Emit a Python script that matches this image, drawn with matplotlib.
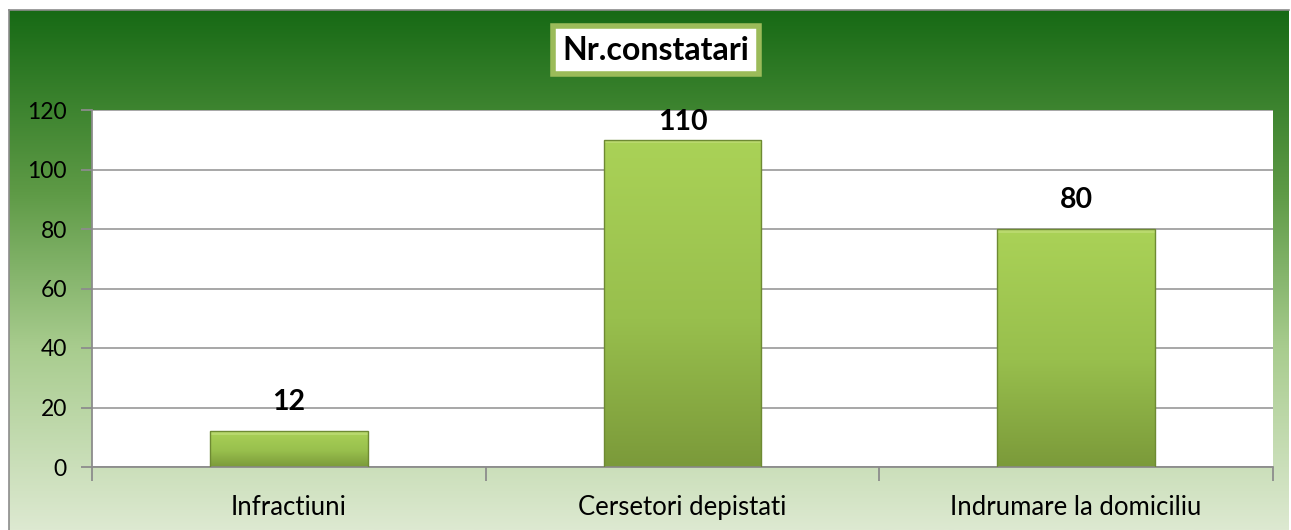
import numpy as np
import matplotlib
matplotlib.use("Agg")
import matplotlib.pyplot as plt
from matplotlib.colors import LinearSegmentedColormap
from matplotlib.patches import Rectangle

categories = ["Infractiuni", "Cersetori depistati", "Indrumare la domiciliu"]
values = [12, 110, 80]
yticks = [0, 20, 40, 60, 80, 100, 120]
title = "Nr.constatari"

plt.rcParams['font.family'] = ['Lato', 'DejaVu Sans']

W, H = 1291, 530
fig = plt.figure(figsize=(W / 100, H / 100), dpi=100, facecolor='white')

# chart background with vertical gradient
bg = fig.add_axes([9 / W, 0, (W - 11) / W, (H - 10) / H])
bg_cmap = LinearSegmentedColormap.from_list(
    'bg', [(0.0, '#dde9d1'), (0.35, '#a8cc8e'), (0.65, '#5e9a46'), (1.0, '#176a15')])
grad = np.linspace(0, 1, 256).reshape(-1, 1)
bg.imshow(grad, aspect='auto', cmap=bg_cmap, origin='lower', extent=[0, 1, 0, 1])
bg.set_xlim(0, 1)
bg.set_ylim(0, 1)
bg.set_xticks([])
bg.set_yticks([])
for s in bg.spines.values():
    s.set_color('#8c8c8c')
    s.set_linewidth(1.2)
bg.spines['right'].set_visible(False)
bg.spines['bottom'].set_visible(False)

# plot area
ax = fig.add_axes([92 / W, (H - 467) / H, (1273 - 92) / W, (467 - 110) / H])
ax.set_facecolor('white')
ax.set_ylim(0, 120)
ax.set_xlim(-0.5, len(categories) - 0.5)
ax.set_yticks(yticks)
ax.set_yticklabels([str(t) for t in yticks], fontsize=16.5)
ax.yaxis.grid(True, color='#a0a0a0', linewidth=1.3)
ax.set_axisbelow(True)
for side in ['top', 'right']:
    ax.spines[side].set_visible(False)
for side in ['left', 'bottom']:
    ax.spines[side].set_color('#8c8c8c')
    ax.spines[side].set_linewidth(1.3)
ax.tick_params(axis='y', length=8, color='#8c8c8c', width=1.3, pad=10)

# category ticks at boundaries
ax.set_xticks(np.arange(-0.5, len(categories), 1.0))
ax.set_xticklabels([])
ax.tick_params(axis='x', length=10, color='#8c8c8c', width=1.3)
ax.set_xticks(np.arange(len(categories)), minor=True)
ax.set_xticklabels(categories, minor=True, fontsize=18.5)
ax.tick_params(axis='x', which='minor', length=0, pad=20)

bar_cmap = LinearSegmentedColormap.from_list('bar', [(0, '#7b9a3a'), (0.45, '#98bf4d'), (1, '#aad257')])
bw = 0.4
xs = np.arange(len(categories))
bars = ax.bar(xs, values, width=bw, color='none', edgecolor='#6e8a33', linewidth=1.0, zorder=3)
for b, v in zip(bars, values):
    x0 = b.get_x()
    im = ax.imshow(grad, aspect='auto', cmap=bar_cmap, origin='lower',
                   extent=[x0, x0 + bw, 0, v], zorder=2.5)
    im.set_clip_path(b)
    # light bevel at top
    ax.add_patch(Rectangle((x0, v - min(1.2, v * 0.1)), bw, min(1.2, v * 0.1),
                           facecolor='#c4e07e', edgecolor='none', alpha=0.6, zorder=2.8))
ax.set_xlim(-0.5, len(categories) - 0.5)
ax.set_ylim(0, 120)

# data labels
offset = 9.8
for x, v in zip(xs, values):
    y = min(v + offset, 115.8)
    ax.text(x, y, str(v), ha='center', va='center', fontsize=20.5, fontweight='bold', zorder=5)

# title box
fig.text(656 / W, 1 - 50 / H, title, ha='center', va='center', fontsize=23, fontweight='bold',
         bbox=dict(boxstyle='square,pad=0.3', facecolor='white', edgecolor='#9bbb59', linewidth=4))

fig.savefig('out.png', dpi=100, facecolor='white')
